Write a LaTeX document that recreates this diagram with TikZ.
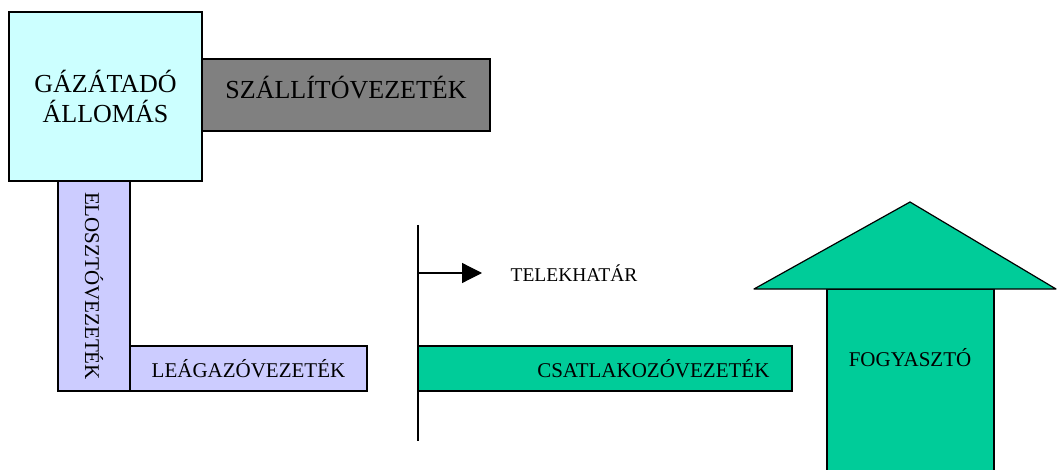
\documentclass[tikz,border=0pt]{standalone}
\usepackage{fontspec}
\setmainfont{Liberation Serif}
\usetikzlibrary{arrows.meta}
\definecolor{stationfill}{HTML}{CCFFFF}
\definecolor{transportfill}{HTML}{808080}
\definecolor{distfill}{HTML}{CCCCFF}
\definecolor{userfill}{HTML}{00CC99}
\newcommand\bigtext[0]{\fontsize{26}{30}\selectfont}
\newcommand\smalltext[0]{\fontsize{21}{25}\selectfont}

\begin{document}
\begin{tikzpicture}[x=1pt,y=-1pt,line width=1.2pt,
  pipe/.style={draw=black,rectangle,inner sep=0pt},
  lbl/.style={inner sep=0pt,font=\smalltext}]

\useasboundingbox (0,0) rectangle (1057,470);

% gas station and transport pipeline
\node[pipe,fill=transportfill,minimum width=288,minimum height=72] (transport) at (346,95) {};
\node[pipe,fill=stationfill,minimum width=193,minimum height=169,align=center,font=\bigtext] (station) at (105.5,96.5) {GÁZÁTADÓ\\ÁLLOMÁS};
\node[inner sep=0pt,font=\bigtext,yshift=7] (transportlbl) at (transport.center) {SZÁLLÍTÓVEZETÉK};

% distribution and branch pipelines
\node[pipe,fill=distfill,minimum width=72,minimum height=210] (dist) at (94,286) {};
\node[lbl,rotate=-90] (distlbl) at (dist.center) {ELOSZTÓVEZETÉK};
\node[pipe,fill=distfill,minimum width=237,minimum height=45,font=\smalltext] (branch) at (248.5,368.5) {LEÁGAZÓVEZETÉK};

% plot boundary
\coordinate (boundtop) at (418,225);
\coordinate (boundbot) at (418,441);
\coordinate (arrowstart) at (418,273);
\coordinate (arrowend) at (482,273);
\draw (boundtop)--(boundbot);
\draw[-{Triangle[length=20pt,width=20pt]}] (arrowstart)--(arrowend);
\node[lbl,anchor=west,font=\fontsize{19.5}{23}\selectfont] (boundlbl) at (510,273) {TELEKHATÁR};

% service pipeline
\node[pipe,fill=userfill,minimum width=374,minimum height=45] (service) at (605,368.5) {};
\node[lbl,anchor=east] (servicelbl) at (770,369) {CSATLAKOZÓVEZETÉK};

% consumer arrow
\coordinate (shaftNW) at (827,289);
\coordinate (shaftSE) at (994,476);
\coordinate (tipL) at (754,289);
\coordinate (tipTop) at (910,202);
\coordinate (tipR) at (1056,289);
\draw[fill=userfill] (shaftNW) rectangle (shaftSE);
\draw[fill=userfill,line join=round] (tipL)--(tipTop)--(tipR)--cycle;
\node[lbl] (userlbl) at (910,358) {FOGYASZTÓ};

\end{tikzpicture}
\end{document}
